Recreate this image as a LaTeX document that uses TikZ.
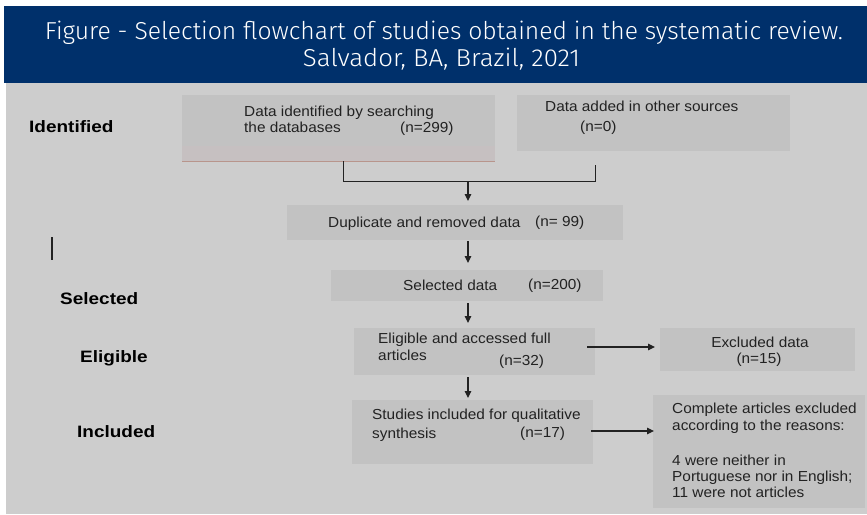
\documentclass[tikz,border=0pt]{standalone}
\usepackage{graphicx}
\usepackage{fontspec}
\setmainfont{Liberation Sans}
\newfontfamily\titlefont{Fira Sans Light}
\usetikzlibrary{arrows.meta}
\definecolor{banner}{HTML}{00306B}
\definecolor{bggray}{HTML}{CDCDCD}
\definecolor{boxgray}{HTML}{C2C2C2}
\definecolor{ink}{HTML}{222222}
\definecolor{salmon}{HTML}{B8958C}
\definecolor{pinkband}{HTML}{C6C0C1}
\newcommand\hs[1]{\scalebox{1.06}[1]{#1}}
\newcommand\hl[1]{\scalebox{1.15}[1]{#1}}
\begin{document}
\begin{tikzpicture}[x=1pt,y=-1pt,
  box/.style={fill=boxgray, draw=none, anchor=north west, inner sep=0},
  txt/.style={anchor=base west, inner sep=0, font=\fontsize{14.5}{17}\selectfont, text=ink},
  ctxt/.style={anchor=base, inner sep=0, font=\fontsize{14.5}{17}\selectfont, text=ink},
  lab/.style={anchor=base west, inner sep=0, font=\bfseries\fontsize{16.5}{19}\selectfont, text=black},
  arr/.style={draw=ink, line width=1.1pt, -{Triangle[length=7pt,width=6.5pt]}},
  conn/.style={draw=ink, line width=1pt}]
\useasboundingbox (0,0) rectangle (867,514);
\fill[white] (0,0) rectangle (867,514);
% banner and image area
\fill[banner] (4,6) rectangle (867,83);
\fill[bggray] (6,83) rectangle (867,514);
\node[anchor=base, inner sep=0, text=white, font=\titlefont\fontsize{24.5}{27}\selectfont] (t1) at (444,39)
  {\resizebox{798pt}{\height}{Figure - Selection flowchart of studies obtained in the systematic review.}};
\node[anchor=base, inner sep=0, text=white, font=\titlefont\fontsize{24.5}{27}\selectfont] (t2) at (441.5,66)
  {\resizebox{277pt}{\height}{Salvador, BA, Brazil, 2021}};

% boxes
\node[box, minimum width=313pt, minimum height=66pt] (b1) at (182,95) {};
\fill[pinkband] (b1.south west) ++(0,-15) rectangle (b1.south east);
\draw[salmon, line width=1.2pt] (b1.south west) -- (b1.south east);
\node[box, minimum width=273pt, minimum height=56pt] (b2) at (517,95) {};
\node[box, minimum width=336pt, minimum height=35pt] (b3) at (287,205) {};
\node[box, minimum width=272pt, minimum height=31pt] (b4) at (331,270) {};
\node[box, minimum width=241pt, minimum height=47pt] (b5) at (354,328) {};
\node[box, minimum width=195pt, minimum height=43pt] (b6) at (660,328) {};
\node[box, minimum width=241pt, minimum height=64pt] (b7) at (352,400) {};
\node[box, minimum width=212pt, minimum height=113pt] (b8) at (653,395) {};

% box texts
\node[txt] (b1a) at (244,116) {\hs{Data identified by searching}};
\node[txt] (b1b) at (244,132) {\hs{the databases}};
\node[txt] (b1c) at (400,132) {\hs{(n=299)}};
\node[txt] (b2a) at (545,111) {\hs{Data added in other sources}};
\node[txt] (b2b) at (580,131) {\hs{(n=0)}};
\node[txt] (b3a) at (328,227) {\hs{Duplicate and removed data}};
\node[txt] (b3b) at (535,226) {\hs{(n= 99)}};
\node[txt] (b4a) at (403,290) {\hs{Selected data}};
\node[txt] (b4b) at (528,289) {\hs{(n=200)}};
\node[txt] (b5a) at (378,343) {\hs{Eligible and accessed full}};
\node[txt] (b5b) at (378,360) {\hs{articles}};
\node[txt] (b5c) at (499,365) {\hs{(n=32)}};
\node[ctxt] (b6a) at (760,347) {\hs{Excluded data}};
\node[ctxt] (b6b) at (759,363) {\hs{(n=15)}};
\node[txt] (b7a) at (372,419) {\hs{Studies included for qualitative}};
\node[txt] (b7b) at (372,438) {\hs{synthesis}};
\node[txt] (b7c) at (520,437) {\hs{(n=17)}};
\node[txt] (b8a) at (672,413) {\hs{Complete articles excluded}};
\node[txt] (b8b) at (672,430) {\hs{according to the reasons:}};
\node[txt] (b8c) at (672,465) {\hs{4 were neither in}};
\node[txt] (b8d) at (672,481) {\hs{Portuguese nor in English;}};
\node[txt] (b8e) at (672,497) {\hs{11 were not articles}};

% stage labels
\node[lab] (l1) at (29,132) {\hl{Identified}};
\node[lab] (l2) at (60,304) {\hl{Selected}};
\node[lab] (l3) at (80,362) {\hl{Eligible}};
\node[lab] (l4) at (77,437) {\hl{Included}};
\coordinate (bar1) at (52,237);
\coordinate (bar2) at (52,260);
\draw[ink, line width=2pt] (bar1) -- (bar2);

% connectors
\coordinate (ax) at (468,0);
\coordinate (jl) at (343,0);
\coordinate (jr) at (595,0);
\coordinate (jy) at (0,181);
\coordinate (r0) at (595,165);
\draw[conn] (b1.south -| jl) |- (jr |- jy) -- (r0);
\draw[arr, shorten >=4pt] (ax |- jy) -- (b3.north -| ax);
\draw[arr, shorten <=1pt, shorten >=7pt] (b3.south -| ax) -- (b4.north -| ax);
\draw[arr, shorten <=2pt, shorten >=5pt] (b4.south -| ax) -- (b5.north -| ax);
\draw[arr, shorten <=2pt, shorten >=2pt] (b5.south -| ax) -- (b7.north -| ax);
\coordinate (h1) at (0,347);
\coordinate (h2) at (0,431);
\draw[arr, shorten <=-8pt, shorten >=5pt] (b5.east |- h1) -- (b6.west |- h1);
\draw[arr, shorten <=-2pt, shorten >=-1pt] (b7.east |- h2) -- (b8.west |- h2);
\end{tikzpicture}
\end{document}
